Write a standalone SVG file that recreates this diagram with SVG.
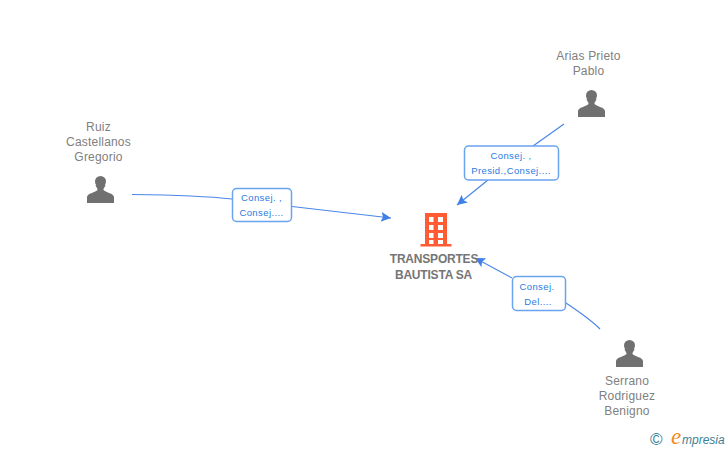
<svg xmlns="http://www.w3.org/2000/svg" width="728" height="450" viewBox="0 0 728 450">
<style>
text{font-family:"Liberation Sans",Arial,sans-serif}
.n{font-size:12px;fill:#808080;text-anchor:middle;letter-spacing:.2px}
.c{font-size:12px;font-weight:bold;fill:#757575;text-anchor:middle;letter-spacing:-.2px}
.l{font-size:9.500px;fill:#2a7ae2;text-anchor:middle;letter-spacing:.4px}
.b{fill:#fff;stroke:#6aa3ee;stroke-width:1.500}
.e{fill:none;stroke:#4a86e8;stroke-width:1.200}
.p{fill:#707070}
</style>
<defs>
<marker id="a" markerUnits="userSpaceOnUse" markerWidth="12" markerHeight="12" refX="10" refY="5" orient="auto"><path d="M0 0L10 5L0 10L2 5Z" fill="#3f80e6"/></marker>
<g id="person"><circle cx="0" cy="-8.500" r="5.500"/><path d="M-5 -5C-4 -2 -3 -2 -3 0C-6 3 -13 3 -13.500 7V13H13.500V7C13 3 6 3 3 0C3 -2 4 -2 5 -5Z" class="p"/></g>
</defs>
<rect width="728" height="450" fill="#fff"/>
<g id="connectors">
<path class="e" d="M132 194.500C170 195 205 196 232 199"/>
<path class="e" d="M292 206.500L391 218" marker-end="url(#a)"/>
<path class="e" d="M564 124L533 146"/>
<path class="e" d="M488 180L457 205" marker-end="url(#a)"/>
<path class="e" d="M512 278L475 258" marker-end="url(#a)"/>
<path class="e" d="M566 303C578 311 590 319 600 329"/>
</g>
<g id="node-ruiz"><text class="n" x="98.500" y="131">Ruiz</text><text class="n" x="98.500" y="146">Castellanos</text><text class="n" x="98.500" y="161">Gregorio</text><use href="#person" class="p" x="100.500" y="190"/></g>
<g id="node-arias"><text class="n" x="588.500" y="60">Arias Prieto</text><text class="n" x="588.500" y="75">Pablo</text><use href="#person" class="p" x="591.500" y="104"/></g>
<g id="node-serrano"><text class="n" x="627" y="385">Serrano</text><text class="n" x="627" y="400">Rodriguez</text><text class="n" x="627" y="415">Benigno</text><use href="#person" class="p" x="629.500" y="354"/></g>
<g id="node-company">
<path fill="#ff5c33" fill-rule="evenodd" d="M425 213H447V244H451.500V246.500H420.500V244H425ZM429 217V222H433.500V217ZM438 217V222H443V217ZM429 225V230H433.500V225ZM438 225V230H443V225ZM429 233V238H433.500V233ZM438 233V238H443V233ZM429 240V244H433.500V240ZM438 240V244H443V240Z"/>
<text class="c" x="434" y="263">TRANSPORTES</text><text class="c" x="433.500" y="279">BAUTISTA SA</text>
</g>
<g id="label-1"><rect class="b" x="232.500" y="188.500" width="59" height="33" rx="4"/><text class="l" x="261.500" y="201">Consej. ,</text><text class="l" x="261.500" y="216">Consej....</text></g>
<g id="label-2"><rect class="b" x="464.500" y="146" width="94" height="34" rx="4"/><text class="l" x="511" y="159">Consej. ,</text><text class="l" x="511" y="174">Presid.,Consej....</text></g>
<g id="label-3"><rect class="b" x="512.500" y="276.500" width="53" height="34" rx="4"/><text class="l" x="537" y="290">Consej.</text><text class="l" x="538" y="305">Del....</text></g>
<g id="credit"><text x="650" y="445" font-size="17" fill="#3d7f96">©</text><text x="671" y="444" font-size="23" font-style="italic" fill="#f08a1d" style="font-family:'Liberation Serif',serif">e</text><text x="682" y="444" font-size="12" font-style="italic" fill="#3d7f96">mpresia</text></g>
</svg>
